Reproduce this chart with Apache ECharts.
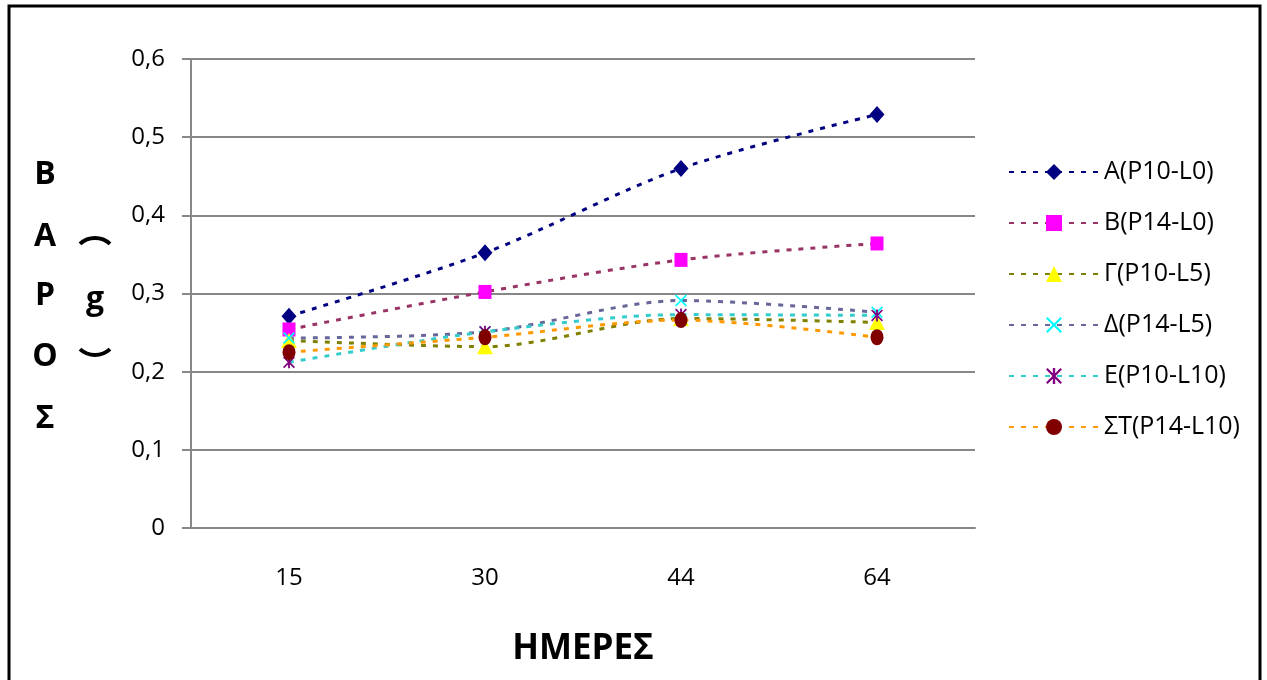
<!DOCTYPE html>
<html lang="el">

<head>
    <meta charset="UTF-8">
    <title>ΒΑΡΟΣ - ΗΜΕΡΕΣ</title>
    <style>
        html,
        body {
            margin: 0;
            padding: 0;
            background: #fff;
        }
        
        #chart {
            width: 1267px;
            height: 680px;
        }
    </style>
</head>

<body>
    <div id="chart"></div>

    <script src="https://cdn.jsdelivr.net/npm/echarts@6/dist/echarts.min.js"></script>
    <script>
        // ημέρες
        var days = ['15', '30', '44', '64'];

        // βάρος (g) ανά μεταχείριση
        var seriesNames = ['Α(P10-L0)', 'Β(P14-L0)', 'Γ(P10-L5)', 'Δ(P14-L5)', 'Ε(P10-L10)', 'ΣΤ(P14-L10)'];
        var valuesA = [0.271, 0.352, 0.460, 0.529];
        var valuesB = [0.254, 0.302, 0.343, 0.364];
        var valuesG = [0.240, 0.232, 0.268, 0.263];
        var valuesD = [0.243, 0.251, 0.291, 0.276];
        var valuesE = [0.212, 0.251, 0.273, 0.272];
        var valuesST = [0.225, 0.244, 0.266, 0.244];

        var yTicks = [0, 0.1, 0.2, 0.3, 0.4, 0.5, 0.6];

        var FONT = '"Open Sans", "Noto Sans", sans-serif';

        var xMark = 'path://M0,2 L2,0 L10,8 L18,0 L20,2 L12,10 L20,18 L18,20 L10,12 L2,20 L0,18 L8,10 Z';
        var starMark = 'path://M0,2 L2,0 L10,8 L18,0 L20,2 L12,10 L20,18 L18,20 L10,12 L2,20 L0,18 L8,10 Z M8.5,0 L11.5,0 L11.5,20 L8.5,20 Z';

        function makeSeries(name, data, lineColor, symbol, symbolSize, markColor) {
            return {
                name: name,
                type: 'line',
                data: data,
                smooth: 0.3,
                symbol: symbol,
                symbolSize: symbolSize,
                showAllSymbol: true,
                lineStyle: {
                    color: lineColor,
                    width: 3,
                    type: [5, 7]
                },
                itemStyle: {
                    color: markColor,
                    borderWidth: 0
                },
                emphasis: {
                    disabled: true
                }
            };
        }

        var chart = echarts.init(document.getElementById('chart'));

        var option = {
            animation: false,
            backgroundColor: '#fff',
            textStyle: {
                fontFamily: FONT
            },
            grid: {
                left: 191,
                right: 292,
                top: 59,
                bottom: 152
            },
            legend: {
                orient: 'vertical',
                left: 1003,
                top: 152,
                itemWidth: 90,
                itemHeight: 20,
                itemGap: 21,
                data: seriesNames,
                textStyle: {
                    fontFamily: FONT,
                    fontSize: 25,
                    lineHeight: 30,
                    color: '#000'
                }
            },
            xAxis: {
                type: 'category',
                data: days,
                boundaryGap: true,
                name: 'ΗΜΕΡΕΣ',
                nameLocation: 'middle',
                nameGap: 104,
                nameTextStyle: {
                    fontFamily: FONT,
                    fontSize: 35,
                    fontWeight: 'bold',
                    color: '#000'
                },
                axisLine: {
                    lineStyle: {
                        color: '#878787',
                        width: 2
                    }
                },
                axisTick: {
                    show: false
                },
                axisLabel: {
                    fontSize: 24,
                    color: '#000',
                    margin: 38
                }
            },
            yAxis: {
                type: 'value',
                min: 0,
                max: 0.6,
                interval: 0.1,
                axisLine: {
                    show: true,
                    lineStyle: {
                        color: '#878787',
                        width: 2
                    }
                },
                axisTick: {
                    show: true,
                    length: 9,
                    lineStyle: {
                        color: '#878787',
                        width: 2
                    }
                },
                splitLine: {
                    lineStyle: {
                        color: '#878787',
                        width: 2
                    }
                },
                axisLabel: {
                    fontSize: 24,
                    color: '#000',
                    margin: 26,
                    formatter: function(v) {
                        var r = Math.round(v * 10) / 10;
                        return yTicks.indexOf(r) >= 0 ? String(r).replace('.', ',') : '';
                    }
                }
            },
            graphic: [{
                type: 'rect',
                shape: { x: 9, y: 6, width: 1251, height: 700 },
                style: { fill: 'none', stroke: '#000', lineWidth: 3 },
                silent: true
            }],
            series: [
                makeSeries(seriesNames[0], valuesA, '#000080', 'diamond', [15, 17], '#000080'),
                makeSeries(seriesNames[1], valuesB, '#993366', 'rect', [13, 14], '#ff00ff'),
                makeSeries(seriesNames[2], valuesG, '#808000', 'triangle', [16, 15], '#ffff00'),
                makeSeries(seriesNames[3], valuesD, '#666699', xMark, 12, '#00ffff'),
                makeSeries(seriesNames[4], valuesE, '#33cccc', starMark, 12, '#800080'),
                makeSeries(seriesNames[5], valuesST, '#ff9900', 'circle', [13, 16], '#800000')
            ]
        };

        // ετικέτα άξονα Y: κάθετα γράμματα
        var yLetters = ['Β', 'Α', 'Ρ', 'Ο', 'Σ'];
        var yLetterPos = [175, 237, 296, 357, 419];
        yLetters.forEach(function(ch, i) {
            option.graphic.push({
                type: 'text',
                x: 45,
                y: yLetterPos[i],
                silent: true,
                style: {
                    text: ch,
                    font: 'bold 32px ' + FONT,
                    fill: '#000',
                    align: 'center',
                    verticalAlign: 'middle'
                }
            });
        });
        // (g) σε κάθετη γραφή: παρενθέσεις ως τόξα
        option.graphic.push({
            type: 'arc', silent: true,
            shape: { cx: 95, cy: 260, r: 22, startAngle: -Math.PI / 2 - 0.75, endAngle: -Math.PI / 2 + 0.75 },
            style: { stroke: '#000', lineWidth: 4, fill: 'none' }
        }, {
            type: 'text', x: 95, y: 300, silent: true,
            style: { text: 'g', font: 'bold 32px ' + FONT, fill: '#000', align: 'center', verticalAlign: 'middle' }
        }, {
            type: 'arc', silent: true,
            shape: { cx: 95, cy: 333, r: 22, startAngle: Math.PI / 2 - 0.75, endAngle: Math.PI / 2 + 0.75 },
            style: { stroke: '#000', lineWidth: 4, fill: 'none' }
        });

        chart.setOption(option);
    </script>
</body>

</html>
